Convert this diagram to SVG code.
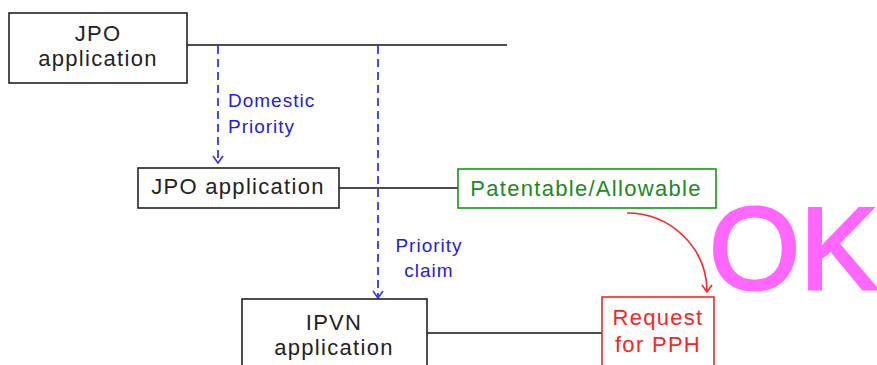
<svg xmlns="http://www.w3.org/2000/svg" width="877" height="365" viewBox="0 0 877 365">
<style>
.box{fill:#fff;stroke:#222;stroke-width:1.6}
.t{font-family:"Liberation Sans",Arial,sans-serif;font-size:22px;letter-spacing:1.3px;fill:#222;text-anchor:middle}
.b{font-family:"Liberation Sans",Arial,sans-serif;font-size:19px;letter-spacing:1px;fill:#2222dd}
.ln{stroke:#111;stroke-width:1.6;fill:none}
.dash{stroke:#3333ff;stroke-width:1.8;stroke-dasharray:8 5;fill:none}
</style>
<defs>
<marker id="ab" viewBox="0 0 10 12" refX="9" refY="6" markerWidth="10" markerHeight="12" markerUnits="userSpaceOnUse" orient="auto"><path d="M2,1 L9,6 L2,11" fill="none" stroke="#3333ff" stroke-width="1.6"/></marker>
<marker id="ar" viewBox="0 0 10 12" refX="9" refY="6" markerWidth="10" markerHeight="12" markerUnits="userSpaceOnUse" orient="auto"><path d="M2,1 L9,6 L2,11" fill="none" stroke="#ff2222" stroke-width="1.6"/></marker>
</defs>
<g id="connectors">
<line class="ln" x1="187" y1="45" x2="507" y2="45"/>
<line class="ln" x1="339" y1="188" x2="458" y2="188"/>
<line class="ln" x1="427" y1="333" x2="602" y2="333"/>
<line class="dash" x1="218" y1="46" x2="218" y2="163" marker-end="url(#ab)"/>
<line class="dash" x1="378" y1="46" x2="378" y2="298" marker-end="url(#ab)"/>
<path d="M627,213 C671,213 707,248 707,292" fill="none" stroke="#ff2222" stroke-width="1.6" marker-end="url(#ar)"/>
<text class="b" x="228" y="107">Domestic</text>
<text class="b" x="228" y="133">Priority</text>
<text class="b" x="429" y="252" text-anchor="middle">Priority</text>
<text class="b" x="429" y="277" text-anchor="middle">claim</text>
</g>
<g id="jpo1">
<rect class="box" x="9" y="13" width="178" height="70"/>
<text class="t" x="98" y="41">JPO</text>
<text class="t" x="98" y="66">application</text>
</g>
<g id="jpo2">
<rect class="box" x="138" y="168" width="201" height="40"/>
<text class="t" x="238" y="194">JPO application</text>
</g>
<g id="patentable">
<rect x="458" y="169" width="258" height="39" fill="#fff" stroke="#119911" stroke-width="1.6"/>
<text class="t" x="586" y="196" style="fill:#228822">Patentable/Allowable</text>
</g>
<g id="ipvn">
<rect class="box" x="242" y="299" width="185" height="80"/>
<text class="t" x="334" y="330">IPVN</text>
<text class="t" x="334" y="355">application</text>
</g>
<g id="pph">
<rect x="602" y="297" width="112" height="80" fill="#fff" stroke="#ff2222" stroke-width="1.6"/>
<text class="t" x="658" y="325" style="fill:#ff2222">Request</text>
<text class="t" x="658" y="352" style="fill:#ff2222">for PPH</text>
</g>
<text x="709" y="289" font-family="'Liberation Sans',Arial,sans-serif" font-size="117" fill="#ff66ff" stroke="#ff66ff" stroke-width="3">OK</text>
</svg>
